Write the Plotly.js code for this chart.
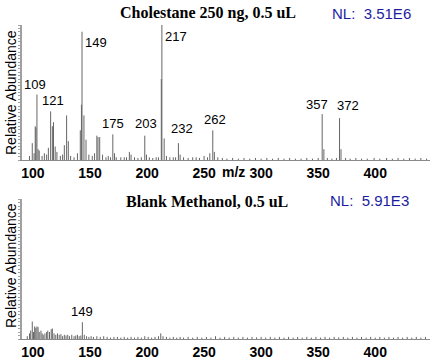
<!DOCTYPE html>
<html><head><meta charset="utf-8">
<script src="https://cdn.plot.ly/plotly-3.0.1.min.js"></script>
<style>html,body{margin:0;padding:0;background:#fff}#chart{width:432px;height:360px}</style>
</head><body><div id="chart"></div>
<script>
// Top spectrum: Cholestane 250 ng (m/z as read on the plotted axis, relative abundance %)
var topMz = [97, 99.4, 101, 102, 102.6, 103.5, 104.5, 105.5, 108, 110, 112, 113.5, 115.5, 117, 118, 119.5, 121, 124, 126, 127.5, 129.5, 131, 133, 136, 139, 141.5, 142.5, 143, 144.7, 146.5, 149, 152, 154, 156, 157, 158.5, 161, 164, 166, 168, 170, 171.5, 173, 177, 180, 182, 184.5, 186, 189, 192, 195, 198, 199.5, 202, 205, 208, 210, 212.5, 213, 215, 217, 220, 223, 225, 227.5, 229, 232, 236, 240, 243, 246, 250, 253, 255, 257.6, 259, 262, 266, 270, 275, 280, 285, 290, 295, 300, 305, 310, 315, 320, 325, 330, 335, 340, 345, 350, 353.5, 355, 358, 362, 366, 368.7, 370, 374, 378, 383, 388, 393, 399, 404, 410, 415, 420, 425, 430, 435, 440, 445];
var topInt = [3, 12.5, 5, 25, 24, 48.5, 8, 7, 3, 5, 4, 9, 36, 25, 28, 10, 6, 3, 4, 11, 33, 14, 3, 2, 5, 22, 41, 95, 33, 15, 4, 3, 5, 18, 17, 17, 4, 2, 3, 2, 19, 5, 2, 2, 2, 2, 6, 4, 2, 1.5, 2, 18, 4, 2, 1.5, 2, 2, 60, 100, 16, 3, 2, 2, 2, 12.5, 4, 2, 1.5, 2, 2, 1.5, 3, 2, 5, 22, 6, 2, 1.5, 1, 1.5, 1, 1.5, 1, 1.5, 1, 1.5, 1, 1.5, 1, 1.5, 1, 1, 1.5, 1, 1.5, 34, 8, 1.5, 1, 1.5, 31, 8, 1.5, 1, 1.5, 1, 1, 1.5, 1, 1.5, 1, 1.5, 1, 1.5, 1, 1.5, 1];
var topLabels = ['109', '121', '149', '175', '203', '217', '232', '262', '357', '372'];
var topLabelMz = [103.5, 115.5, 143, 170, 198, 213, 227.5, 257.6, 353.5, 368.7];
var topLabelInt = [48.5, 36, 95, 19, 18, 100, 12.5, 22, 34, 31];

// Bottom spectrum: Blank Methanol
var botMz = [95, 97, 98, 99.4, 100.5, 101.5, 102.5, 103.5, 104.5, 105.5, 107, 108, 109, 110.5, 112, 113, 114.5, 116, 117, 118.5, 120, 121.5, 123, 124.5, 126, 127.5, 129, 130.5, 132, 134, 136, 137.5, 139, 140.5, 142, 143.3, 145, 147, 149, 151, 153, 156, 159, 162, 165, 168, 171, 174, 177, 180, 183, 186, 189, 192, 195, 198, 201, 204, 207, 210, 212, 214, 217, 220, 223, 226, 229, 232, 236, 240, 244, 248, 252, 256, 260, 264, 268, 272, 276, 280, 284, 288, 292, 296, 300, 304, 308, 312, 316, 320, 324, 328, 332, 336, 340, 344, 348, 352, 356, 360, 364, 368, 372, 376, 380, 384, 388, 392, 396, 400, 404, 408, 412, 416, 420, 424, 428, 432, 436, 440, 444];
var botInt = [2, 4, 6, 12.5, 5, 9, 8, 9, 8.5, 5, 6, 4, 3, 4, 5, 6, 5, 7, 7.5, 4, 3, 4, 3, 3.5, 2, 3, 2.5, 3, 2, 3, 2, 2.5, 3, 2, 2.5, 12, 3, 2, 1.5, 2, 1.5, 2, 1.5, 2, 1.5, 1, 1.5, 1.5, 1, 1.5, 1, 1.5, 1, 1.5, 1, 2, 1.5, 1, 1.5, 2, 4, 2, 1.5, 1, 1.5, 1, 1.5, 1, 1.5, 1, 1.5, 1, 1.5, 1, 2, 1, 1.5, 1, 1.5, 1, 1.5, 1, 1.5, 1.2, 1.5, 1, 1.5, 1, 1.5, 1, 1.5, 1, 1.5, 1, 1.5, 1, 1.5, 1, 1.5, 1, 1.5, 1.2, 1.5, 1, 1.5, 1, 1.5, 1, 1.5, 1, 1.5, 1, 1.5, 1, 1.5, 1, 1.5, 1, 1.5, 1, 1.5];
var botLabels = ['149'];
var botLabelMz = [143.3];
var botLabelInt = [12];

var xTicks = [100, 150, 200, 250, 300, 350, 400];
var xTickText = ['100', '150', '200', '250', '300', '350', '400'];

function sticks(mz, inten) {
  var x = [], y = [];
  for (var i = 0; i < mz.length; i++) { x.push(mz[i], mz[i], null); y.push(0, inten[i], null); }
  return {x: x, y: y};
}
var s1 = sticks(topMz, topInt), s2 = sticks(botMz, botInt);
var peakColor = '#666666';
var traces = [
  {type: 'scatter', mode: 'lines', x: s1.x, y: s1.y, xaxis: 'x', yaxis: 'y', line: {color: peakColor, width: 1}, hoverinfo: 'skip', showlegend: false},
  {type: 'scatter', mode: 'lines', x: s2.x, y: s2.y, xaxis: 'x2', yaxis: 'y2', line: {color: peakColor, width: 1}, hoverinfo: 'skip', showlegend: false}
];

var lblFont = {family: 'Arial, Liberation Sans, sans-serif', size: 13, color: '#000'};
// per-label placement offsets (px): [xanchor, xshift, yanchor, yshift]
var topPlace = [['center', -2, 'bottom', 1], ['center', 2, 'bottom', 1], ['left', 1, 'top', -1], ['center', 0, 'bottom', 1], ['center', 1, 'bottom', 3], ['left', 1, 'top', -2], ['center', 4, 'bottom', 5], ['center', 2, 'bottom', 1], ['center', -5, 'bottom', 0], ['center', 8, 'bottom', 3]];
var ann = [];
for (var i = 0; i < topLabels.length; i++) {
  var p = topPlace[i];
  ann.push({xref: 'x', yref: 'y', x: topLabelMz[i], y: topLabelInt[i], text: topLabels[i], showarrow: false, xanchor: p[0], xshift: p[1], yanchor: p[2], yshift: p[3], font: lblFont});
}
for (var j = 0; j < botLabels.length; j++) {
  ann.push({xref: 'x2', yref: 'y2', x: botLabelMz[j], y: botLabelInt[j], text: botLabels[j], showarrow: false, xanchor: 'center', yanchor: 'bottom', yshift: 1, font: lblFont});
}
var titleFont = {family: 'Times New Roman, Liberation Serif, serif', size: 16, color: '#000', weight: 'bold'};
var nlFont = {family: 'Arial, Liberation Sans, sans-serif', size: 15, color: '#1c1ca0'};
ann.push({xref: 'paper', yref: 'paper', x: 0.4815, y: 0.964, text: 'Cholestane 250 ng, 0.5 uL', showarrow: false, xanchor: 'center', yanchor: 'middle', font: titleFont});
ann.push({xref: 'paper', yref: 'paper', x: 0.859, y: 0.962, text: 'NL:  3.51E6', showarrow: false, xanchor: 'center', yanchor: 'middle', font: nlFont});
ann.push({xref: 'paper', yref: 'paper', x: 0.479, y: 0.439, text: 'Blank Methanol, 0.5 uL', showarrow: false, xanchor: 'center', yanchor: 'middle', font: titleFont});
ann.push({xref: 'paper', yref: 'paper', x: 0.856, y: 0.442, text: 'NL:  5.91E3', showarrow: false, xanchor: 'center', yanchor: 'middle', font: nlFont});
ann.push({xref: 'paper', yref: 'paper', x: 234 / 432, y: 1 - 172 / 360, text: 'm/z', showarrow: false, xanchor: 'center', yanchor: 'middle', font: {family: 'Arial, Liberation Sans, sans-serif', size: 14, color: '#000', weight: 'bold'}});
var yTitleFont = {family: 'Arial, Liberation Sans, sans-serif', size: 14, color: '#000'};
ann.push({xref: 'paper', yref: 'paper', x: 11 / 432, y: 1 - 93 / 360, text: 'Relative Abundance', showarrow: false, textangle: -90, xanchor: 'center', yanchor: 'middle', font: yTitleFont});
ann.push({xref: 'paper', yref: 'paper', x: 11 / 432, y: 1 - 266 / 360, text: 'Relative Abundance', showarrow: false, textangle: -90, xanchor: 'center', yanchor: 'middle', font: yTitleFont});

var xRange = [90.4, 448];
var xCommon = {range: xRange, domain: [22 / 432, 430 / 432], tickvals: xTicks, ticktext: xTickText, ticks: '', ticklen: 0, showgrid: false, zeroline: false, showline: true, linecolor: '#8a8a8a', linewidth: 1, automargin: false,
  tickfont: {family: 'Arial, Liberation Sans, sans-serif', size: 14, color: '#000', weight: 'bold'}, ticklabelstandoff: 0};
var yCommon = {range: [0, 100], showgrid: false, zeroline: false, showline: true, linecolor: '#a0a0a0', linewidth: 2, ticks: 'outside', ticklen: 2, tickwidth: 1, tickcolor: '#a0a0a0', dtick: 2.5, showticklabels: false, automargin: false};

var layout = {
  width: 432, height: 360, margin: {l: 0, r: 0, t: 0, b: 0}, paper_bgcolor: '#fff', plot_bgcolor: '#fff', showlegend: false,
  xaxis: Object.assign({}, xCommon, {anchor: 'y'}),
  yaxis: Object.assign({}, yCommon, {domain: [1 - 160 / 360, 1 - 25 / 360], anchor: 'x'}),
  xaxis2: Object.assign({}, xCommon, {anchor: 'y2'}),
  yaxis2: Object.assign({}, yCommon, {domain: [1 - 339 / 360, 1 - 199 / 360], anchor: 'x2'}),
  annotations: ann
};
Plotly.newPlot('chart', traces, layout, {staticPlot: true, displayModeBar: false});
</script></body></html>
